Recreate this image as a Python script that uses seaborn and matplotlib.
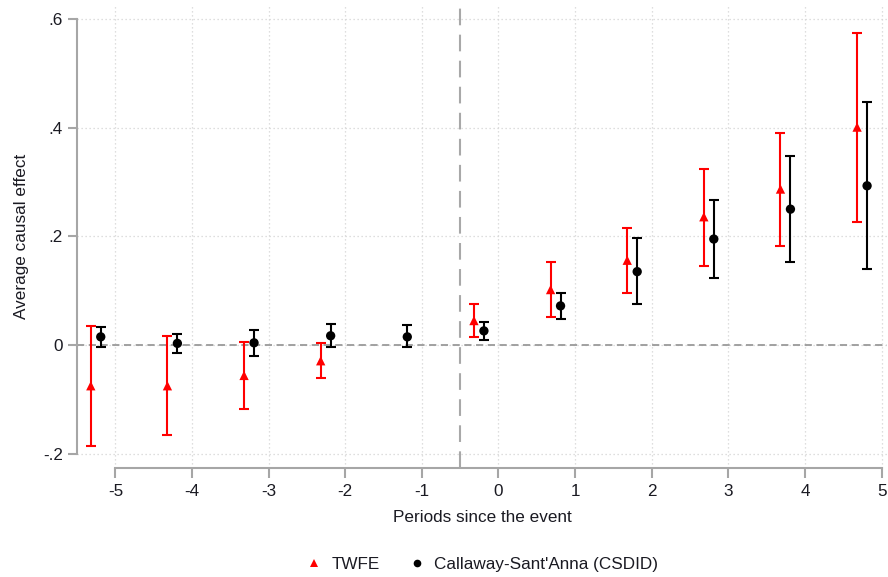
import numpy as np
import pandas as pd
import seaborn as sns
import matplotlib
matplotlib.use("Agg")
import matplotlib.pyplot as plt

# Event-study estimates: point estimate and 95% CI bounds by period
twfe_period = [-5, -4, -3, -2, 0, 1, 2, 3, 4, 5]
twfe_est = [-0.075, -0.075, -0.056, -0.029, 0.045, 0.102, 0.156, 0.236, 0.287, 0.401]
twfe_lo = [-0.185, -0.166, -0.117, -0.061, 0.014, 0.051, 0.095, 0.146, 0.183, 0.226]
twfe_hi = [0.035, 0.017, 0.005, 0.004, 0.075, 0.152, 0.216, 0.324, 0.390, 0.575]

cs_period = [-5, -4, -3, -2, -1, 0, 1, 2, 3, 4, 5]
cs_est = [0.015, 0.003, 0.004, 0.017, 0.015, 0.026, 0.072, 0.135, 0.195, 0.250, 0.293]
cs_lo = [-0.004, -0.014, -0.020, -0.004, -0.004, 0.010, 0.047, 0.075, 0.124, 0.153, 0.139]
cs_hi = [0.034, 0.020, 0.028, 0.038, 0.036, 0.043, 0.096, 0.197, 0.267, 0.348, 0.448]

x_ticks = [-5, -4, -3, -2, -1, 0, 1, 2, 3, 4, 5]
y_ticks = [-0.2, 0, 0.2, 0.4, 0.6]
y_tick_labels = ["-.2", "0", ".2", ".4", ".6"]

series_names = ["TWFE", "Callaway-Sant'Anna (CSDID)"]
series_colors = {"TWFE": "#ff0000", "Callaway-Sant'Anna (CSDID)": "#000000"}
series_markers = {"TWFE": "^", "Callaway-Sant'Anna (CSDID)": "o"}
series_shift = {"TWFE": -0.32, "Callaway-Sant'Anna (CSDID)": -0.19}

df = pd.concat([
    pd.DataFrame({"period": twfe_period, "est": twfe_est, "lo": twfe_lo,
                  "hi": twfe_hi, "method": series_names[0]}),
    pd.DataFrame({"period": cs_period, "est": cs_est, "lo": cs_lo,
                  "hi": cs_hi, "method": series_names[1]}),
], ignore_index=True)
df["xpos"] = df["period"] + df["method"].map(series_shift)

sns.set_theme(style="white")
plt.rcParams["font.family"] = ["Liberation Sans", "DejaVu Sans"]
text_color = "#1a1a22"
axis_gray = "#a6a6a6"
fs = 12.3

fig = plt.figure(figsize=(8.88, 5.77), dpi=100)
ax = fig.add_axes([77 / 888, 109.3 / 577, 810 / 888, 462.7 / 577])

# Grid
for xv in x_ticks:
    ax.axvline(xv, color="#d4d4d4", lw=0.9, ls=(0, (1, 2.2)), zorder=0)
for yv in y_ticks:
    ax.axhline(yv, color="#d4d4d4", lw=0.9, ls=(0, (1, 2.2)), zorder=0)

# Reference lines
ax.axhline(0, color="#9a9a9a", lw=1.3, ls=(0, (4, 2.5)), zorder=1)
ax.axvline(-0.5, color="#a8a8a8", lw=1.5, ls=(0, (8, 4.5)), zorder=1)

# Confidence intervals
for name in series_names:
    sub = df[df["method"] == name]
    ax.errorbar(sub["xpos"], sub["est"],
                yerr=[sub["est"] - sub["lo"], sub["hi"] - sub["est"]],
                fmt="none", ecolor=series_colors[name], elinewidth=1.5,
                capsize=3.6, capthick=1.5, zorder=2)

# Point estimates
sns.scatterplot(data=df, x="xpos", y="est", hue="method", style="method",
                hue_order=series_names, style_order=series_names,
                palette=series_colors, markers=series_markers,
                s=45, edgecolor="none", linewidth=0, ax=ax, zorder=3,
                legend=True)

ax.set_xlim(-5.5, 5.07)
ax.set_ylim(-0.2258, 0.6257)
ax.set_xticks(x_ticks)
ax.set_xticklabels([str(v) for v in x_ticks])
ax.set_yticks(y_ticks)
ax.set_yticklabels(y_tick_labels)

for s in ["top", "right"]:
    ax.spines[s].set_visible(False)
ax.spines["left"].set_bounds(-0.2, 0.6)
ax.spines["bottom"].set_bounds(-5, 5)
for s in ["left", "bottom"]:
    ax.spines[s].set_color(axis_gray)
    ax.spines[s].set_linewidth(1.5)

ax.tick_params(axis="y", direction="out", length=6.5, width=1.5, color=axis_gray,
               labelsize=fs, labelcolor=text_color, pad=3.5, left=True)
ax.tick_params(axis="x", direction="out", length=7, width=1.5, color=axis_gray,
               labelsize=fs, labelcolor=text_color, pad=4.5, bottom=True)

ax.set_xlabel("Periods since the event", fontsize=fs, color=text_color, labelpad=8)
ax.set_ylabel("Average causal effect", fontsize=fs, color=text_color, labelpad=10)

# Legend below the plot
handles, labels = ax.get_legend_handles_labels()
ax.legend_.remove()
for h in handles:
    try:
        h.set_sizes([30])
    except AttributeError:
        h.set_markersize(5.5)
fig.legend(handles, labels, loc="center", bbox_to_anchor=(0.543, 0.022),
           ncol=2, frameon=False, fontsize=fs, labelcolor=text_color,
           handletextpad=0.5, columnspacing=1.7, handlelength=1.0)

fig.savefig("out.png", dpi=100)
